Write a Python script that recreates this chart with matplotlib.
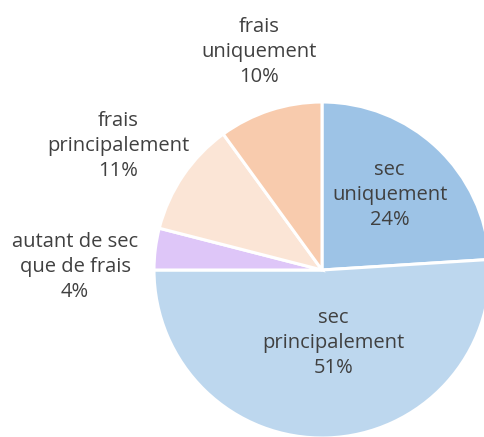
import numpy as np
import matplotlib
matplotlib.use("Agg")
import matplotlib.pyplot as plt

# data, clockwise from 12 o'clock
labels = ["sec\nuniquement", "sec\nprincipalement", "autant de sec\nque de frais",
          "frais\nprincipalement", "frais\nuniquement"]
shares = [24, 51, 4, 11, 10]
colors = ["#9DC3E6", "#BDD7EE", "#DEC6F8", "#FBE5D6", "#F8CBAD"]
label_dist = [0.60, 0.44, 1.47, 1.42, 1.35]
angle_shift = [1, 7, 6.5, 3, -2]

W, H = 485, 437
fig = plt.figure(figsize=(W / 100, H / 100), dpi=100)
ax = fig.add_axes([0, 0, 1, 1])

cx, cy, r = 322, H - 270, 168
wedges, _ = ax.pie(shares, colors=colors, startangle=90, counterclock=False,
                   center=(cx, cy), radius=r, frame=True,
                   wedgeprops=dict(edgecolor="white", linewidth=2.2))
ax.set_xlim(0, W)
ax.set_ylim(0, H)
ax.set_aspect("equal")
ax.axis("off")

for w, lab, s, d, sh in zip(wedges, labels, shares, label_dist, angle_shift):
    mid = np.deg2rad((w.theta1 + w.theta2) / 2 + sh)
    x = cx + d * r * np.cos(mid)
    y = cy + d * r * np.sin(mid)
    ax.text(x, y, f"{lab}\n{s}%", ha="center", va="center", fontsize=14.5,
            family="Open Sans", color="#404040", linespacing=1.33)

fig.savefig("out.png", dpi=100)
